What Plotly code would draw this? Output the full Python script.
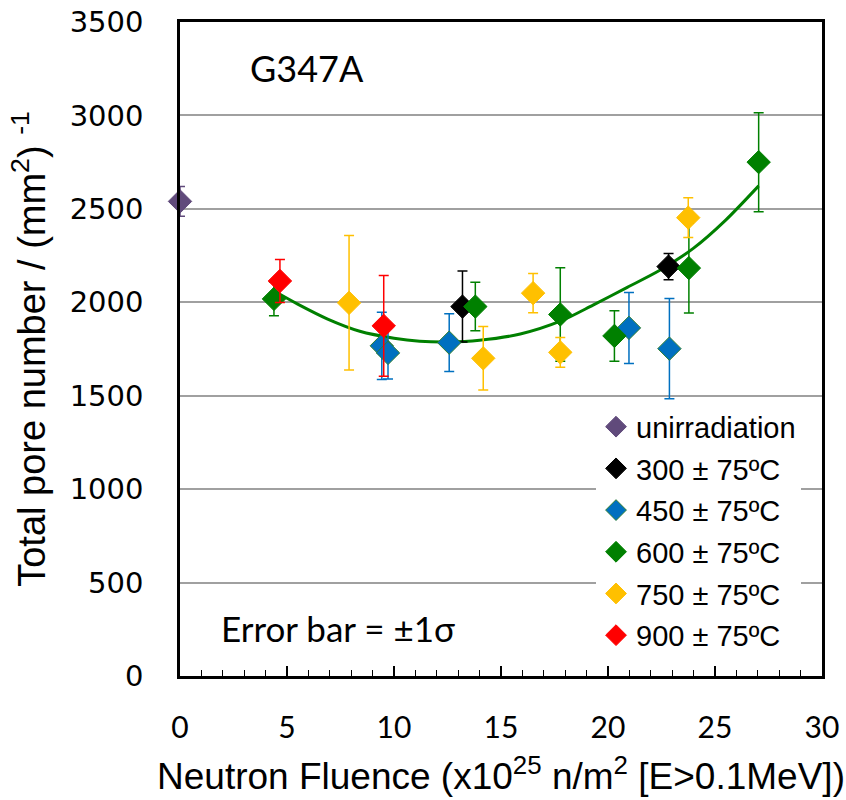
import plotly.graph_objects as go

# ---- data ----
unirr_x = [0.0]
unirr_y = [2540]
unirr_e = [80]

s300_x = [13.2, 22.83]
s300_y = [1977, 2191]
s300_e = [190, 70]

s450_x = [9.43, 9.72, 12.58, 20.98, 22.87]
s450_y = [1767, 1729, 1784, 1863, 1752]
s450_e = [180, 140, 155, 190, 268]

s600_x = [4.39, 13.8, 17.77, 20.3, 23.78, 27.04]
s600_y = [2018, 1977, 1935, 1820, 2183, 2750]
s600_e = [90, 130, 250, 135, 240, 265]

s750_x = [7.9, 14.17, 16.5, 17.77, 23.75]
s750_y = [1997, 1700, 2049, 1732, 2453]
s750_e = [360, 170, 105, 80, 106]

s900_x = [4.67, 9.52]
s900_y = [2114, 1874]
s900_e = [115, 270]

trend_x = [4.4, 5.5, 6.9, 8.4, 10.0, 11.2, 12.5, 14.0, 15.9, 17.8, 19.3, 20.9, 22.4, 24.0, 25.5, 27.04]
trend_y = [2060, 1990, 1910, 1845, 1808, 1792, 1788, 1797, 1830, 1900, 1985, 2080, 2170, 2290, 2440, 2623]

series = [
    ("unirradiation", unirr_x, unirr_y, unirr_e, "#604A7B"),
    ("300 ± 75ºC", s300_x, s300_y, s300_e, "#000000"),
    ("450 ± 75ºC", s450_x, s450_y, s450_e, "#0070C0"),
    ("600 ± 75ºC", s600_x, s600_y, s600_e, "#008000"),
    ("750 ± 75ºC", s750_x, s750_y, s750_e, "#FFC000"),
    ("900 ± 75ºC", s900_x, s900_y, s900_e, "#FF0000"),
]

fig = go.Figure()

fig.add_trace(go.Scatter(
    x=trend_x, y=trend_y, mode="lines",
    line=dict(color="#008000", width=3, shape="spline", smoothing=0.8),
    showlegend=False, hoverinfo="skip"))

for i, (name, xs, ys, es, col) in enumerate(series):
    edge = "#2E7D32" if name.startswith("450") else col
    fig.add_trace(go.Scatter(
        x=xs, y=ys, mode="markers", name=name, legendgroup=f"g{i}",
        marker=dict(symbol="diamond", size=18, color=col, line=dict(color=edge, width=1)),
        error_y=dict(type="data", array=es, visible=True, color=col, thickness=1.5, width=5),
        cliponaxis=False))

fig.add_annotation(x=5.95, y=3255, text="G347A", showarrow=False,
                   font=dict(family="Lato", size=36, color="#000000"), xanchor="center", yanchor="middle")
fig.add_annotation(x=7.4, y=257, text="Error bar = ±1σ", showarrow=False,
                   font=dict(family="Lato", size=35, color="#000000"), xanchor="center", yanchor="middle")

fig.update_layout(
    width=846, height=800,
    margin=dict(l=180, r=24, t=22, b=124),
    paper_bgcolor="white", plot_bgcolor="white",
    legend=dict(x=0.648, y=0.42, xanchor="left", yanchor="top", bgcolor="white",
                font=dict(family="Liberation Sans, Arial", size=29, color="#000000"),
                tracegroupgap=1, itemwidth=30),
    showlegend=True,
)

fig.update_xaxes(
    range=[0, 30], dtick=5, tick0=0, automargin=False,
    showline=True, linecolor="#000000", linewidth=2.5, mirror=True,
    showgrid=False, zeroline=False,
    ticks="inside", ticklen=10, tickwidth=1.5, tickcolor="#000000",
    minor=dict(dtick=1, ticks="inside", ticklen=6, tickwidth=1.2, tickcolor="#000000"),
    tickfont=dict(family="Lato", size=30, color="#000000"),
    ticklabelstandoff=23,
    title=dict(text="Neutron Fluence (x10<sup>25</sup> n/m<sup>2</sup> [E&gt;0.1MeV])",
               font=dict(family="Liberation Sans, Arial", size=37, color="#000000"), standoff=21),
)
fig.update_yaxes(
    range=[0, 3500], dtick=500, tick0=0, automargin=False,
    showline=True, linecolor="#000000", linewidth=2.5, mirror=True,
    showgrid=True, gridcolor="#A0A0A0", gridwidth=1.5, zeroline=False,
    ticks="",
    tickfont=dict(family="DejaVu Sans", size=29, color="#000000"),
    ticklabelstandoff=28,
    title=dict(text="Total pore number / (mm<sup>2</sup>) <sup>-1</sup>",
               font=dict(family="Liberation Sans, Arial", size=38, color="#000000"), standoff=13),
)

fig.write_html("out.html", config={"displayModeBar": False},
               post_script="document.body.style.margin='0px';")
